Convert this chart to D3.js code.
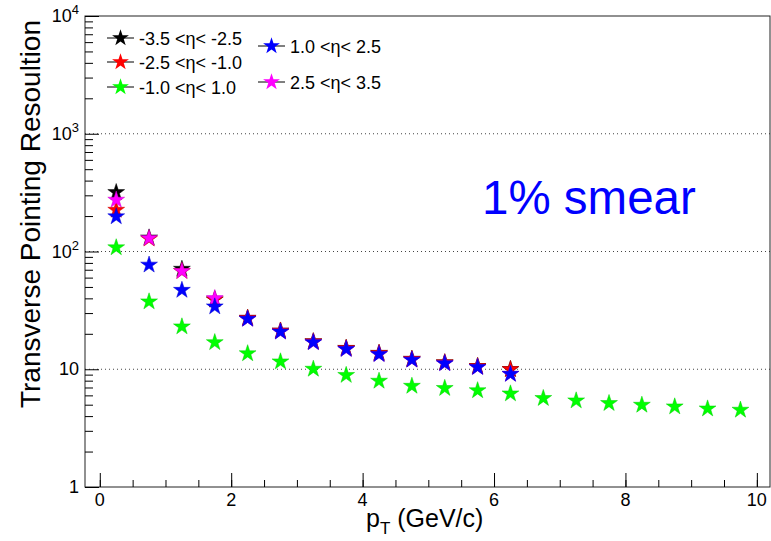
<!DOCTYPE html>
<html lang="en">
<head>
    <meta charset="UTF-8">
    <title>Transverse Pointing Resolution</title>
    <script src="https://d3js.org/d3.v7.min.js"></script>
    <style>
        body { margin: 0; background: #fff; }
        text { font-family: "Liberation Sans", Arial, sans-serif; }
    </style>
</head>
<body>
    <script>
        // bin centres in pT (GeV/c)
        const ptBins = [0.25, 0.75, 1.25, 1.75, 2.25, 2.75, 3.25, 3.75, 4.25, 4.75,
                        5.25, 5.75, 6.25, 6.75, 7.25, 7.75, 8.25, 8.75, 9.25, 9.75];

        const etaLabels = ["-3.5 <\u03b7< -2.5", "-2.5 <\u03b7< -1.0", "-1.0 <\u03b7< 1.0",
                           "1.0 <\u03b7< 2.5", "2.5 <\u03b7< 3.5"];

        const resBlack   = [318, 131, 71, 39, 27.2, 21.2, 17.2, 15.1, 13.7, 12.2, 11.4, 10.6, 10.0];
        const resRed     = [225, 128, 68, 39, 27.2, 21.2, 17.2, 15.1, 13.7, 12.2, 11.4, 10.6, 10.0];
        const resGreen   = [108, 37.5, 23, 16.9, 13.6, 11.6, 10.05, 8.9, 7.95, 7.2,
                            6.9, 6.6, 6.2, 5.67, 5.41, 5.14, 4.97, 4.81, 4.62, 4.51];
        const resBlue    = [198, 77, 47, 34, 26.7, 20.8, 16.9, 14.8, 13.4, 12.0, 11.2, 10.4, 9.1];
        const resMagenta = [274, 129.5, 68, 40, 26.7, 20.8, 16.9, 14.8, 13.4, 12.0, 11.2, 10.4, 9.1];

        const yMajor = [1, 10, 100, 1000, 10000];
        const yMajorLabels = [["1", ""], ["10", ""], ["10", "2"], ["10", "3"], ["10", "4"]];
        const xMajor = [0, 2, 4, 6, 8, 10];

        const w = 771, h = 541;
        const padL = 85, padR = 770, padT = 16, padB = 487;

        const xScale = d3.scaleLinear().domain([-0.225, 10.2]).range([padL, padR]);
        const yScale = d3.scaleLog().domain([1, 10000]).range([padB, padT]);

        const svg = d3.select("body").append("svg")
            .attr("width", w).attr("height", h);

        // dotted grid at decades
        svg.selectAll(".grid")
            .data([10, 100, 1000])
            .enter().append("line")
            .attr("x1", padL).attr("x2", padR)
            .attr("y1", d => yScale(d)).attr("y2", d => yScale(d))
            .attr("stroke", "#444").attr("stroke-width", 1)
            .attr("stroke-dasharray", "1,3");

        // frame
        svg.append("rect")
            .attr("x", padL).attr("y", padT)
            .attr("width", padR - padL).attr("height", padB - padT)
            .attr("fill", "none").attr("stroke", "#222").attr("stroke-width", 1);

        // x axis ticks (inside)
        let xMinor = [];
        for (let v = 0; v <= 10.01; v += 0.5) xMinor.push(v);
        svg.append("g")
            .attr("transform", "translate(0," + padB + ")")
            .call(d3.axisTop(xScale).tickValues(xMinor).tickSize(7).tickFormat(""))
            .call(g => g.select(".domain").remove());
        svg.append("g")
            .attr("transform", "translate(0," + padB + ")")
            .call(d3.axisTop(xScale).tickValues(xMajor).tickSize(14).tickFormat(""))
            .call(g => g.select(".domain").remove());

        svg.selectAll(".xlab")
            .data(xMajor)
            .enter().append("text")
            .attr("x", d => xScale(d)).attr("y", 506)
            .attr("text-anchor", "middle")
            .attr("font-size", 18).attr("fill", "#000")
            .text(d => d);

        // y axis ticks (inside)
        let yMinor = [];
        for (let dec = 1; dec < 10000; dec *= 10)
            for (let k = 2; k <= 9; k++) yMinor.push(dec * k);
        svg.append("g")
            .attr("transform", "translate(" + padL + ",0)")
            .call(d3.axisRight(yScale).tickValues(yMinor).tickSize(8).tickFormat(""))
            .call(g => g.select(".domain").remove());
        svg.append("g")
            .attr("transform", "translate(" + padL + ",0)")
            .call(d3.axisRight(yScale).tickValues(yMajor).tickSize(14).tickFormat(""))
            .call(g => g.select(".domain").remove());

        const ylab = svg.selectAll(".ylab")
            .data(yMajor)
            .enter().append("text")
            .attr("x", 79).attr("y", d => yScale(d) + 6)
            .attr("text-anchor", "end")
            .attr("font-size", 18).attr("fill", "#000");
        ylab.append("tspan").text((d, i) => yMajorLabels[i][0]);
        ylab.append("tspan")
            .attr("dy", -8).attr("font-size", 13)
            .text((d, i) => yMajorLabels[i][1]);

        // axis titles
        svg.append("text")
            .attr("transform", "translate(40,214) rotate(-90)")
            .attr("text-anchor", "middle")
            .attr("font-size", 28).attr("fill", "#000")
            .text("Transverse Pointing Resoultion");

        const xt = svg.append("text")
            .attr("x", 366).attr("y", 527)
            .attr("font-size", 25).attr("fill", "#000");
        xt.append("tspan").text("p");
        xt.append("tspan").attr("dy", 7).attr("font-size", 17).text("T");
        xt.append("tspan").attr("dy", -7).text(" (GeV/c)");

        // data
        const series = [
            { vals: resBlack, color: "#000000" },
            { vals: resRed, color: "#ff0000" },
            { vals: resMagenta, color: "#ff00ff" },
            { vals: resBlue, color: "#0000ff" },
            { vals: resGreen, color: "#00ff00" }
        ];
        const star = d3.symbol().type(d3.symbolStar).size(88);

        series.forEach(s => {
            svg.append("g").selectAll("path")
                .data(s.vals)
                .enter().append("path")
                .attr("d", star)
                .attr("transform", (d, i) => "translate(" + xScale(ptBins[i]) + "," + yScale(d) + ")")
                .attr("fill", s.color)
                .attr("stroke", d3.color(s.color).darker(0.6))
                .attr("stroke-width", 0.5);
        });

        // legend
        const legColors = ["#000000", "#ff0000", "#00ff00", "#0000ff", "#ff00ff"];
        const legPos = [[107, 38], [107, 62], [107, 87], [258, 46], [258, 82]];
        legPos.forEach((p, i) => {
            const g = svg.append("g").attr("transform", "translate(" + p[0] + "," + p[1] + ")");
            g.append("line").attr("x1", 0).attr("x2", 27)
                .attr("stroke", "#000").attr("stroke-width", 1);
            g.append("path").attr("d", star)
                .attr("transform", "translate(13.5,0)")
                .attr("fill", legColors[i]);
            g.append("text").attr("x", 32).attr("y", 7)
                .attr("font-size", 18).attr("fill", "#000")
                .text(etaLabels[i]);
        });

        svg.append("text")
            .attr("x", 482).attr("y", 214)
            .attr("font-size", 47.5).attr("fill", "#0000ff")
            .text("1% smear");
    </script>
</body>
</html>
